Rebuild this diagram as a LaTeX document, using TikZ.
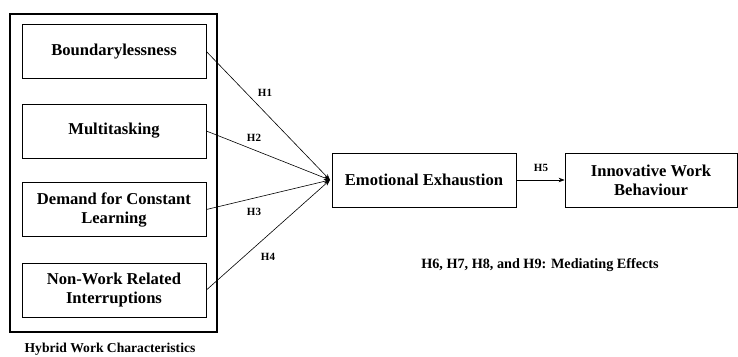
\documentclass[tikz,border=0pt]{standalone}
\usepackage{fontspec}
\setmainfont{Liberation Serif}
\usetikzlibrary{arrows.meta}
\begin{document}
\begin{tikzpicture}[x=1pt,y=-1pt,
  boxtext/.style={font=\bfseries\fontsize{16.6}{19}\selectfont, align=center},
  var/.style={draw, line width=0.8pt, boxtext, minimum width=184pt, minimum height=54pt, inner sep=0pt},
  hlab/.style={font=\bfseries\fontsize{11}{13}\selectfont, inner sep=0pt},
  path/.style={line width=0.6pt, -{Stealth[length=6pt,width=4.5pt]}}
]
\useasboundingbox (0,0) rectangle (738,356);
\node[draw, line width=2.6pt, minimum width=207pt, minimum height=318pt, inner sep=0pt] (outer) at (113.5,173) {};
\node[var] (b1) at (114,51.5) {Boundarylessness};
\node[var] (b2) at (114,131) {Multitasking};
\node[var] (b3) at (114,209.5) {Demand for Constant\\Learning};
\node[var] (b4) at (114,290) {Non-Work Related\\Interruptions};
\node[var] (ee) at (424,180) {Emotional Exhaustion};
\node[var, minimum width=172pt] (iwb) at (651,180) {Innovative Work\\Behaviour};
\node[font=\bfseries\fontsize{13.6}{16}\selectfont, inner sep=0pt] (cap) at (110,349) {Hybrid Work Characteristics};
\node[font=\bfseries\fontsize{14.2}{17}\selectfont, inner sep=0pt] (med) at (540,265) {H6, H7, H8, and H9: Mediating Effects};
\coordinate (tip) at (330,180);
\draw[path] (b1.east) -- (tip);
\draw[path] (b2.east) -- (tip);
\draw[path] (b3.east) -- (tip);
\draw[path] (b4.east) -- (tip);
\draw[path] (ee.east) -- (iwb.west);
\node[hlab] (h1) at (265,93) {H1};
\node[hlab] (h2) at (254,138) {H2};
\node[hlab] (h3) at (254,212) {H3};
\node[hlab] (h4) at (268,257) {H4};
\node[hlab] (h5) at (541,168) {H5};
\end{tikzpicture}
\end{document}
